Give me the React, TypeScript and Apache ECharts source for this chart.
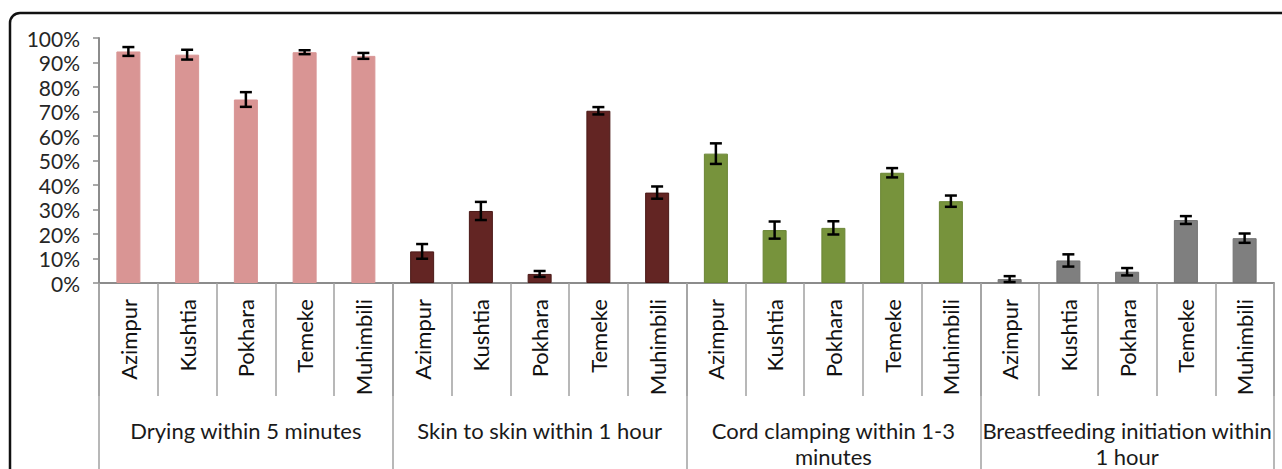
import React, { useEffect, useRef } from "react";
import * as echarts from "echarts";

const sites = ["Azimpur", "Kushtia", "Pokhara", "Temeke", "Muhimbili"];
const groupLabels = [
  "Drying within 5 minutes",
  "Skin to skin within 1 hour",
  "Cord clamping within 1-3\nminutes",
  "Breastfeeding initiation within\n1 hour",
];
const dryingValues = [94.5, 93.2, 74.9, 94.2, 92.7];
const dryingErrors = [1.8, 2.0, 3.0, 0.8, 1.2];
const skinValues = [12.9, 29.4, 3.7, 70.3, 36.9];
const skinErrors = [3.0, 3.7, 1.2, 1.5, 2.5];
const cordValues = [52.8, 21.6, 22.5, 45.0, 33.4];
const cordErrors = [4.2, 3.5, 2.7, 1.9, 2.3];
const bfValues = [1.6, 9.2, 4.6, 25.7, 18.3];
const bfErrors = [1.2, 2.5, 1.5, 1.6, 1.9];
const groupColors = ["#D99594", "#632523", "#77933C", "#7F7F7F"];
const groupBorders = ["#D99594", "#4A1917", "#6A8535", "#737373"];
const yTicks = [0, 10, 20, 30, 40, 50, 60, 70, 80, 90, 100];

export default function App() {
  const ref = useRef<HTMLDivElement>(null);
  useEffect(() => {
    if (!ref.current) return;
    const chart = echarts.init(ref.current, null, { renderer: "svg" });
    const groupValues = [dryingValues, skinValues, cordValues, bfValues];
    const groupErrors = [dryingErrors, skinErrors, cordErrors, bfErrors];
    const categories: string[] = [];
    const barData: any[] = [];
    const errData: number[][] = [];
    groupValues.forEach((vals, g) => {
      vals.forEach((v, i) => {
        categories.push(sites[i]);
        barData.push({
          value: v,
          itemStyle: { color: groupColors[g], borderColor: groupBorders[g], borderWidth: 1 },
        });
        const e = groupErrors[g][i];
        errData.push([categories.length - 1, v - e, v + e]);
      });
    });

    chart.setOption({
      animation: false,
      backgroundColor: "#ffffff",
      grid: { left: 99, right: 8, top: 38, bottom: 185 },
      graphic: [
        {
          type: "rect",
          shape: { x: 10, y: 13, width: 1320, height: 520, r: 10 },
          style: { fill: "none", stroke: "#111111", lineWidth: 2.5 },
          z: 100,
        },
      ],
      xAxis: [
        {
          type: "category",
          data: categories,
          axisLine: { show: true, lineStyle: { color: "#8C8C8C", width: 2 } },
          axisTick: {
            show: true,
            interval: 0,
            alignWithLabel: false,
            length: 113,
            lineStyle: { color: "#A0A0A0", width: 1.5 },
          },
          axisLabel: {
            interval: 0,
            rotate: 90,
            margin: 16,
            fontFamily: "Lato",
            fontSize: 22,
            color: "#111111",
          },
        },
        {
          type: "category",
          data: groupLabels,
          position: "bottom",
          axisLine: { show: false },
          axisTick: {
            show: true,
            interval: 0,
            alignWithLabel: false,
            length: 220,
            lineStyle: { color: "#A0A0A0", width: 1.5 },
          },
          axisLabel: {
            interval: 0,
            margin: 134,
            fontFamily: "Lato",
            fontSize: 22,
            lineHeight: 26,
            color: "#1A1A1A",
            align: "center",
          },
        },
      ],
      yAxis: {
        type: "value",
        min: yTicks[0],
        max: yTicks[yTicks.length - 1],
        interval: 10,
        axisLine: { show: true, lineStyle: { color: "#8C8C8C", width: 2 } },
        axisTick: { show: true, length: 6, lineStyle: { color: "#8C8C8C", width: 1.5 } },
        splitLine: { show: false },
        axisLabel: {
          formatter: "{value}%",
          margin: 19,
          fontFamily: "Lato",
          fontSize: 21,
          color: "#262626",
        },
      },
      series: [
        {
          type: "bar",
          xAxisIndex: 0,
          data: barData,
          barWidth: 24,
        },
        {
          type: "custom",
          xAxisIndex: 0,
          data: errData,
          z: 10,
          renderItem: (params: any, api: any) => {
            const x = api.value(0);
            const lo = api.coord([x, api.value(1)]);
            const hi = api.coord([x, api.value(2)]);
            const hw = 6;
            const style = { stroke: "#000000", lineWidth: 2.5 };
            return {
              type: "group",
              children: [
                { type: "line", shape: { x1: lo[0], y1: lo[1], x2: hi[0], y2: hi[1] }, style },
                { type: "line", shape: { x1: lo[0] - hw, y1: lo[1], x2: lo[0] + hw, y2: lo[1] }, style },
                { type: "line", shape: { x1: hi[0] - hw, y1: hi[1], x2: hi[0] + hw, y2: hi[1] }, style },
              ],
            };
          },
        },
      ],
    });
    return () => chart.dispose();
  }, []);
  return (
    <div
      ref={ref}
      style={{ position: "absolute", left: 0, top: 0, width: 1282, height: 469 }}
    />
  );
}
